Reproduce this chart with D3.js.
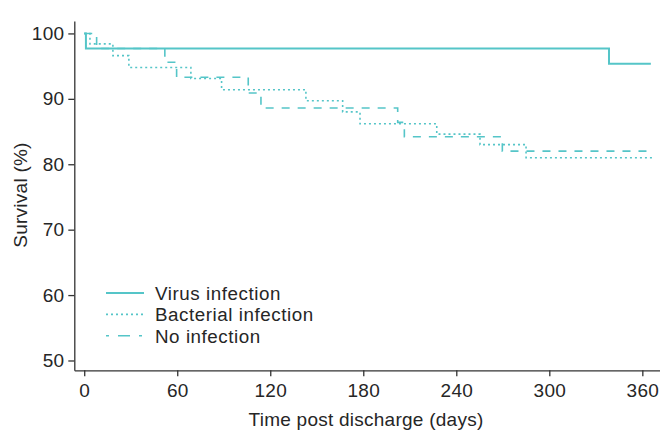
<!DOCTYPE html>
<html>
<head>
<meta charset="utf-8">
<script src="https://cdn.jsdelivr.net/npm/d3@7"></script>
<style>
  body { margin: 0; background: #fff; }
  svg text { font-family: "Liberation Sans", Arial, sans-serif; fill: #262626; letter-spacing: 0.25px; }
  .axis path, .axis line { stroke: #333; stroke-width: 1.3; }
  .axis text { font-size: 19px; }
  .legend text { letter-spacing: 0.55px; }
</style>
</head>
<body>
<script>
// step points: day of each drop and survival (%) after it, last point = end of follow-up
const virusDays = [0, 1.1, 338.5, 365.5];
const virusSurv = [100, 97.7, 95.35, 95.35];

const bactDays = [0, 3.7, 18.5, 28.8, 68.8, 88.6, 143, 166.7, 177.9, 227.4, 255.3, 285, 366.5];
const bactSurv = [100, 98.4, 96.6, 94.8, 93.1, 91.4, 89.7, 88.0, 86.2, 84.6, 83.0, 81.0, 81.0];

const noneDays = [0, 8, 52, 59.6, 105.8, 114, 202.2, 206.5, 269.7, 366];
const noneSurv = [100, 97.7, 95.6, 93.3, 90.9, 88.6, 86.4, 84.2, 82.0, 82.0];

const xTicks = [0, 60, 120, 180, 240, 300, 360];
const yTicks = [50, 60, 70, 80, 90, 100];
const seriesNames = ["Virus infection", "Bacterial infection", "No infection"];

const W = 660, H = 432;
const color = "#55c5c8";
const styles = [
  { dash: null, w: 2 },
  { dash: "2,3", w: 1.6 },
  { dash: "8,8", w: 1.6 }
];

var svg = d3.select("body")
            .append("svg")
            .attr("width", W)
            .attr("height", H);

var x = d3.scaleLinear()
          .domain([-6.4, 371.4])
          .range([74.3, 660]);

var y = d3.scaleLinear()
          .domain([48.5, 101.9])
          .range([370.3, 21]);

svg.append("g")
   .attr("class", "axis")
   .attr("transform", "translate(0,370.3)")
   .call(d3.axisBottom(x).tickValues(xTicks).tickSize(6).tickSizeOuter(0).tickPadding(7));

svg.append("g")
   .attr("class", "axis")
   .attr("transform", "translate(74.3,0)")
   .call(d3.axisLeft(y).tickValues(yTicks).tickSize(6).tickSizeOuter(0).tickPadding(4));

svg.append("text")
   .attr("transform", "translate(27,195) rotate(-90)")
   .attr("text-anchor", "middle")
   .style("font-size", "19px")
   .text("Survival (%)");

svg.append("text")
   .attr("x", 366)
   .attr("y", 426)
   .attr("text-anchor", "middle")
   .style("font-size", "19px")
   .text("Time post discharge (days)");

const series = [
  virusDays.map((d, i) => [d, virusSurv[i]]),
  bactDays.map((d, i) => [d, bactSurv[i]]),
  noneDays.map((d, i) => [d, noneSurv[i]])
];

var line = d3.line()
             .x(d => x(d[0]))
             .y(d => y(d[1]))
             .curve(d3.curveStepAfter);

// draw no infection first, virus last on top
[2, 1, 0].forEach(i => {
  svg.append("path")
     .datum(series[i])
     .attr("fill", "none")
     .attr("stroke", color)
     .attr("stroke-width", styles[i].w)
     .attr("stroke-dasharray", styles[i].dash)
     .attr("d", line);
});

// legend
var legend = svg.append("g").attr("class", "legend");
seriesNames.forEach((name, i) => {
  const ly = 293 + i * 21.4;
  legend.append("line")
        .attr("x1", 106).attr("x2", 144)
        .attr("y1", ly).attr("y2", ly)
        .attr("stroke", color)
        .attr("stroke-width", styles[i].w)
        .attr("stroke-dasharray", i == 2 ? "3,9,12,9" : styles[i].dash);
  legend.append("text")
        .attr("x", 155)
        .attr("y", ly + 6.8)
        .style("font-size", "18.8px")
        .text(name);
});
</script>
</body>
</html>
